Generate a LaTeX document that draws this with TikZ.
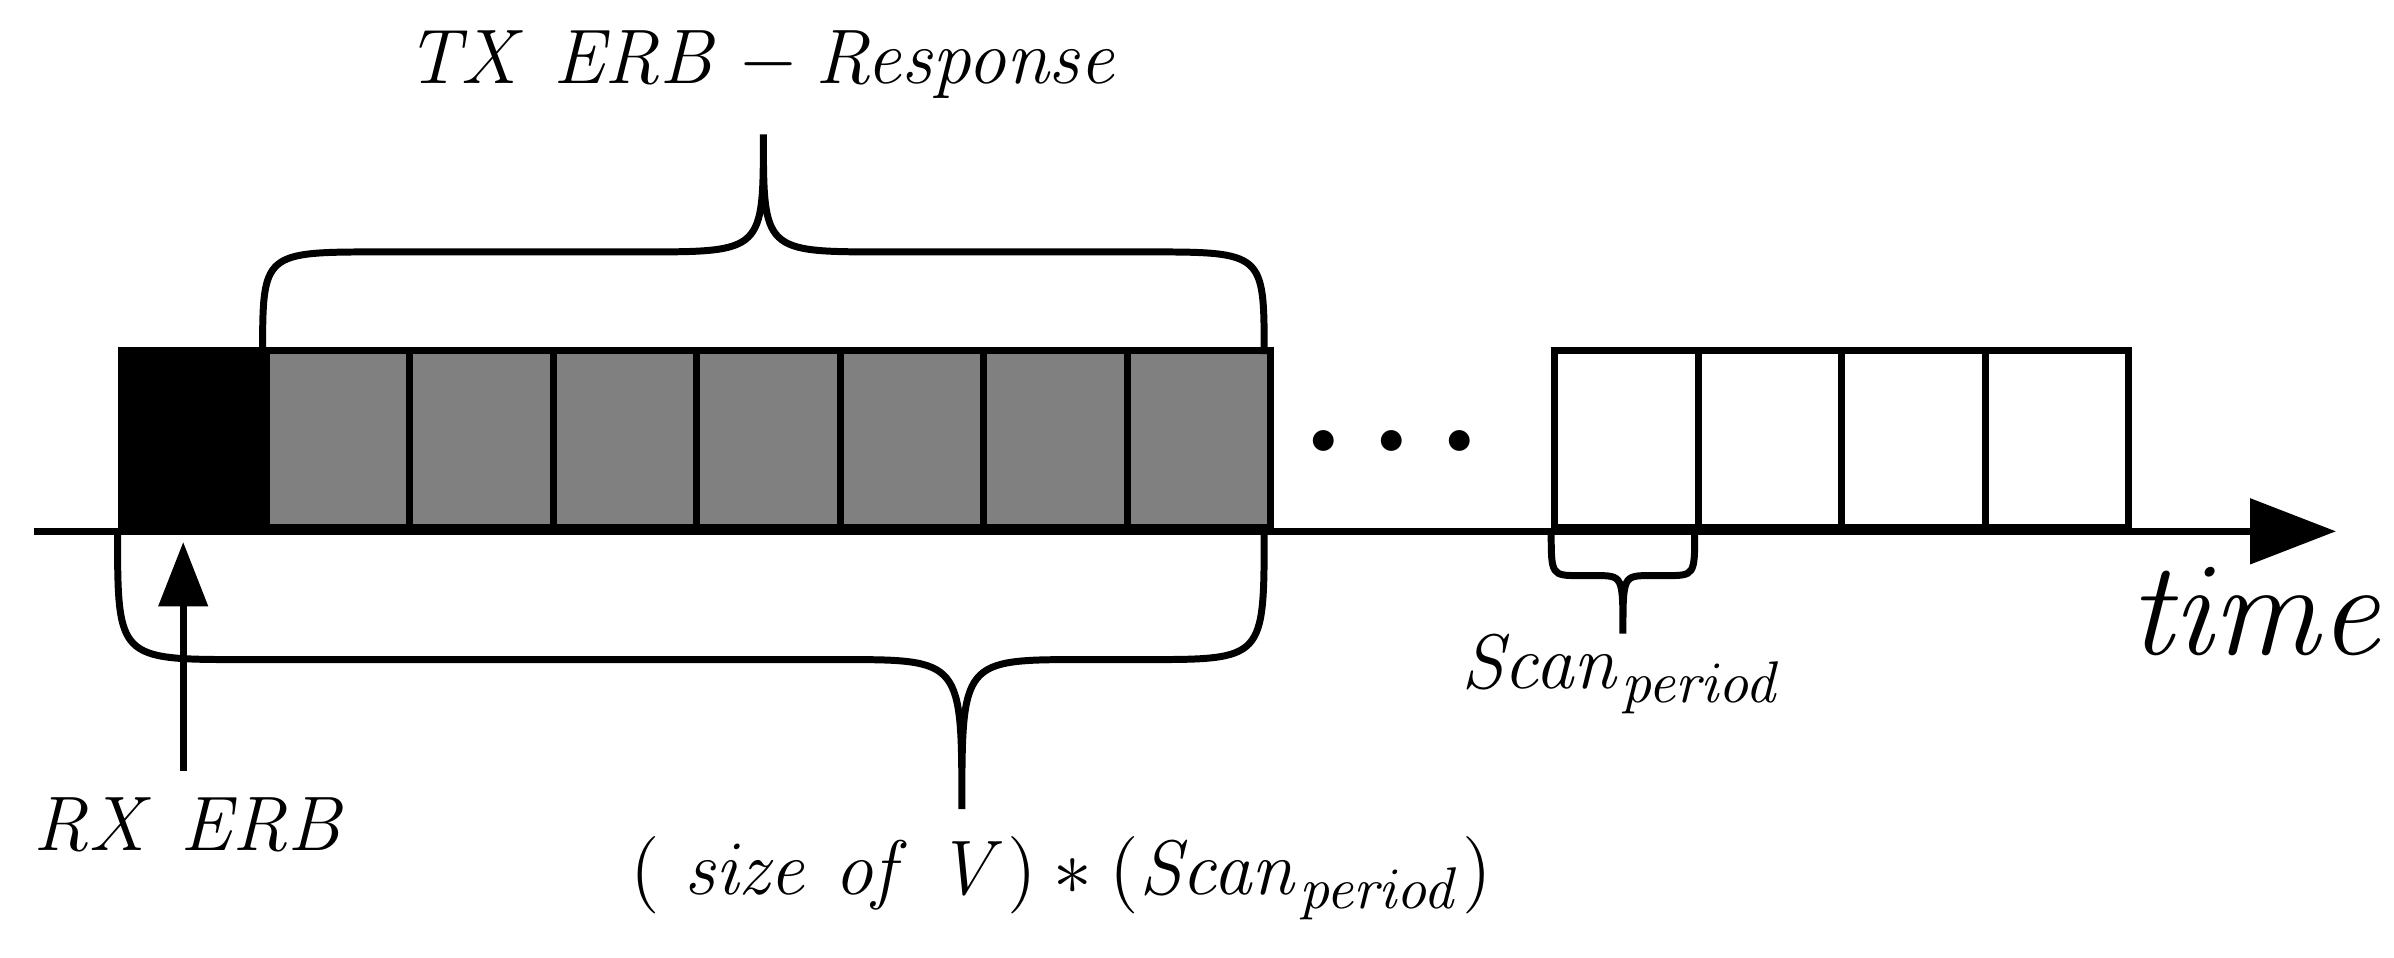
\documentclass[tikz,border=0pt]{standalone}
\usepackage{amsmath}
\usetikzlibrary{arrows.meta}
\begin{document}
\begin{tikzpicture}[x=0.01cm,y=-0.01cm,line width=1.3pt,
  cell/.style={draw=black,line width=1.3pt,minimum width=94*0.01cm,minimum height=116*0.01cm,inner sep=0pt,anchor=south west},
  lbl/.style={font=\fontsize{15}{18}\selectfont}]
\useasboundingbox (0,0) rectangle (1568,627);
% cells
\node[cell,fill=black] (b0) at (77,348) {};
\foreach \i/\x in {1/172,2/266,3/360,4/454,5/548,6/642,7/736}
  \node[cell,fill=black!50] (g\i) at (\x,348) {};
\foreach \i/\x in {1/1016,2/1110,3/1204,4/1298}
  \node[cell,fill=white] (w\i) at (\x,348) {};
% axis
\coordinate (a0) at (22,348);
\coordinate (a1) at (1530,348);
\draw[-{Triangle[length=16pt,width=12pt]}] (a0) -- (a1);
\node[font=\fontsize{24}{28}\selectfont\bfseries] (dots) at (920,290) {$\boldsymbol{\cdots}$};
% top brace
\draw (172,232) .. controls (172,165) .. (250,165) -- (420,165) .. controls (500,165) .. (500,88)
      .. controls (500,165) .. (580,165) -- (750,165) .. controls (828,165) .. (828,232);
\node[lbl] (tx) at (500,42) {$\mathit{TX\ ERB}-\mathit{Response}$};
% bottom brace
\draw (77,348) .. controls (77,432) .. (160,432) -- (550,432) .. controls (630,432) .. (630,530)
      .. controls (630,432) .. (710,432) -- (750,432) .. controls (828,432) .. (828,348);
\node[lbl] (sz) at (695,575) {$(\ \mathit{size\ of\ V})*(\mathit{Scan}_{\mathit{period}})$};
% small brace
\draw (1016,348) .. controls (1016,377) .. (1035,377) -- (1045,377) .. controls (1063,377) .. (1063,415)
      .. controls (1063,377) .. (1081,377) -- (1091,377) .. controls (1110,377) .. (1110,348);
\node[lbl] (sp) at (1063,442) {$\mathit{Scan}_{\mathit{period}}$};
% RX arrow
\coordinate (r0) at (120,505);
\coordinate (r1) at (120,355);
\draw[-{Triangle[length=12pt,width=9pt]}] (r0) -- (r1);
\node[lbl] (rx) at (125,540) {$\mathit{RX\ ERB}$};
\node[font=\fontsize{24}{28}\selectfont] (time) at (1480,400) {$\mathit{time}$};
\end{tikzpicture}
\end{document}
